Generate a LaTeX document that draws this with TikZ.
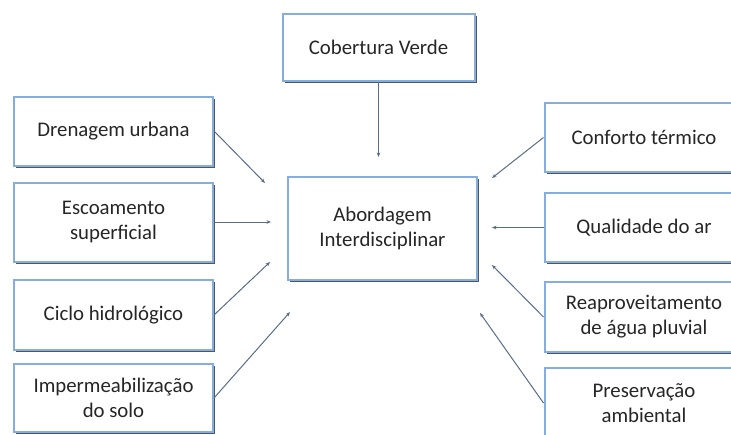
\documentclass[tikz,border=0pt]{standalone}
\usepackage{fontspec}
\setmainfont{Carlito}
\usetikzlibrary{arrows.meta,shadows}
\definecolor{boxblue}{HTML}{86AEDC}
\definecolor{boxshade}{HTML}{4F5663}
\definecolor{arrowgrey}{HTML}{5A6D86}

\begin{document}
\begin{tikzpicture}[
    x=1pt, y=-1pt,
    topic/.style={rectangle, draw=boxblue, line width=2pt, fill=white, text centered,
        align=center, font=\fontsize{20.8}{25}\selectfont, inner sep=2pt,
        minimum width=199pt, minimum height=69pt, text=black!85,
        drop shadow={shadow xshift=2.4pt, shadow yshift=-2.4pt, fill=boxshade, opacity=1}},
    link/.style={draw=arrowgrey, line width=1pt, -{Stealth[length=4.5pt,width=3.6pt]}}
]
\clip (0,0) rectangle (731,434);

\node[topic, minimum width=192pt, minimum height=67pt] (cob) at (378.5,47) {Cobertura Verde};
\node[topic, minimum width=189pt, minimum height=103pt] (abord) at (382.5,228.5) {Abordagem\\Interdisciplinar};

% left side
\node[topic] (dren) at (113.5,131) {Drenagem urbana};
\node[topic, minimum height=79pt] (esco) at (113.5,222) {Escoamento\\superficial};
\node[topic, minimum height=70pt] (ciclo) at (113.5,315) {Ciclo hidrológico};
\node[topic, minimum height=68pt] (imper) at (113.5,398) {Impermeabilização\\do solo};

% right side
\node[topic] (conf) at (644,137.5) {Conforto térmico};
\node[topic] (qual) at (644,227.5) {Qualidade do ar};
\node[topic, minimum height=70pt] (reap) at (644,317) {Reaproveitamento\\de água pluvial};
\node[topic, minimum height=70pt] (pres) at (644,403) {Preservação\\ambiental};

% arrow ends
\coordinate (top) at (378.5,157);
\coordinate (l1) at (265,183);
\coordinate (l2) at (271,222);
\coordinate (l3) at (270,262);
\coordinate (l4) at (290,312);
\coordinate (r1) at (492,178);
\coordinate (r2) at (492,227.5);
\coordinate (r3) at (492,265);
\coordinate (r4) at (480,313);

\draw[link] (cob.south) -- (top);
\draw[link] (dren.east) -- (l1);
\draw[link] (esco.east) -- (l2);
\draw[link] (ciclo.east) -- (l3);
\draw[link] (imper.east) -- (l4);
\draw[link] (conf.west) -- (r1);
\draw[link] (qual.west) -- (r2);
\draw[link] (reap.west) -- (r3);
\draw[link] (pres.west) -- (r4);

\end{tikzpicture}
\end{document}
